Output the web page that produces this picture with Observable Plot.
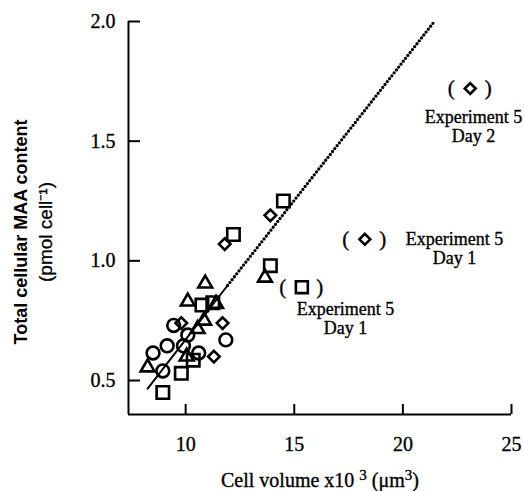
<!DOCTYPE html>
<html><head><meta charset="utf-8">
<script src="https://cdn.jsdelivr.net/npm/d3@7"></script>
<script src="https://cdn.jsdelivr.net/npm/@observablehq/plot@0.6"></script>
<style>body{margin:0;background:#fff}</style>
</head><body><div id="chart"></div>
<script>
// ---- data ----
const squareX = [14.5, 12.2, 13.9, 10.75, 11.25, 10.35, 9.8, 8.95];
const squareY = [1.25, 1.11, 0.98, 0.815, 0.825, 0.585, 0.53, 0.45];
const diamondX = [13.9, 11.8, 9.8, 11.7, 11.3];
const diamondY = [1.19, 1.07, 0.74, 0.74, 0.60];
const triangleX = [10.9, 10.1, 11.4, 10.85, 10.55, 10.05, 8.25, 13.65];
const triangleY = [0.905, 0.83, 0.82, 0.75, 0.715, 0.60, 0.555, 0.93];
const circleX = [9.45, 10.1, 9.15, 8.5, 9.9, 10.6, 11.85, 8.95];
const circleY = [0.73, 0.69, 0.645, 0.615, 0.645, 0.615, 0.67, 0.54];
// excluded (bracketed) points, Experiment 5
const outSquareX = [15.35];
const outSquareY = [0.89];
const outDiamondX = [18.25, 23.1];
const outDiamondY = [1.09, 1.72];
// regression line: solid part and dotted extrapolation
const solidX = [8.25, 11.93];
const solidY = [0.466, 0.897];
const dottedX = [11.93, 21.45];
const dottedY = [0.897, 2.0];
// annotation labels (centre positions in data units)
const noteText = ["Experiment 5\nDay 2", "Experiment 5\nDay 1", "Experiment 5\nDay 1"];
const noteX = [23.25, 22.38, 17.36];
const noteY = [1.563, 1.051, 0.76];
// axes
const xDomain = [7.37, 25];
const yDomain = [0.358, 2.0];
const xTicks = [10, 15, 20, 25];
const yTicks = [0.5, 1.0, 1.5, 2.0];
const xLabelParts = ["Cell volume x10 ", "3", " (μm", "3", ")"];
const yLabel = "Total cellular MAA content\n(pmol cell⁻¹)";

const pts = (xs, ys) => xs.map((x, i) => ({x, y: ys[i]}));
const serif = "Liberation Serif";
const hollow = {x: "x", y: "y", fill: "none", stroke: "black", strokeWidth: 2.6};
const ink = {fill: "black", stroke: "black", strokeWidth: 0.35};

const chart = Plot.plot({
  width: 524, height: 491,
  marginLeft: 128, marginRight: 13, marginTop: 21, marginBottom: 77,
  x: {domain: xDomain},
  y: {domain: yDomain},
  marks: [
    Plot.ruleX([xDomain[0]], {strokeWidth: 2}),
    Plot.ruleY([yDomain[0]], {strokeWidth: 2}),
    Plot.axisY(yTicks, {anchor: "left", tickSize: -12, tickPadding: 25, strokeWidth: 2, label: null,
      tickFormat: d3.format(".1f"), fontSize: 20, fontFamily: serif, fill: "black"}),
    Plot.axisX(xTicks, {anchor: "bottom", tickSize: -10, tickPadding: 32, strokeWidth: 2, label: null,
      fontSize: 20, fontFamily: serif, fill: "black"}),
    Plot.line(pts(solidX, solidY), {x: "x", y: "y", stroke: "black", strokeWidth: 2}),
    Plot.line(pts(dottedX, dottedY), {x: "x", y: "y", stroke: "black", strokeWidth: 3.3,
      strokeDasharray: "0,3.7", strokeLinecap: "round"}),
    Plot.dot(pts(circleX, circleY), {...hollow, symbol: "circle", r: 6.4}),
    Plot.dot(pts(triangleX, triangleY), {...hollow, symbol: "triangle2", r: 6.6}),
    Plot.dot(pts(squareX, squareY), {...hollow, symbol: "square2", r: 7.9}),
    Plot.dot(pts(diamondX, diamondY), {...hollow, symbol: "diamond2", r: 5.2}),
    Plot.dot(pts(outSquareX, outSquareY), {...hollow, symbol: "square2", r: 7.6}),
    Plot.dot(pts(outDiamondX, outDiamondY), {...hollow, symbol: "diamond2", r: 4.9}),
    Plot.text(pts([...outSquareX, ...outDiamondX], [...outSquareY, ...outDiamondY]),
      {x: "x", y: "y", text: () => "(", dx: -19, fontSize: 21, fontFamily: serif, ...ink}),
    Plot.text(pts([...outSquareX, ...outDiamondX], [...outSquareY, ...outDiamondY]),
      {x: "x", y: "y", text: () => ")", dx: 18, fontSize: 21, fontFamily: serif, ...ink}),
    Plot.text(noteText.map((t, i) => ({t, x: noteX[i], y: noteY[i]})),
      {x: "x", y: "y", text: "t", fontSize: 18, lineHeight: 1.05, fontFamily: serif, ...ink}),
    Plot.text([xLabelParts.join("")], {frameAnchor: "bottom", text: d => d, dy: 66, fontSize: 20,
      textAnchor: "middle", lineAnchor: "middle", fontFamily: serif, ...ink}),
    Plot.text([yLabel], {frameAnchor: "left", text: d => d, rotate: -90, dx: -97, dy: 14,
      textAnchor: "middle", lineAnchor: "middle", lineHeight: 1.3, fontSize: 18,
      fontFamily: "Liberation Sans", fill: "black"})
  ]
});
const svg = d3.select(chart);
svg.selectAll("g[aria-label$='tick label'] text").attr("stroke", "black").attr("stroke-width", 0.35);
svg.selectAll("text").each(function() {
  const t = this.textContent;
  if (t.includes("MAA")) {
    this.style.fontFamily = "'Liberation Sans', Arial, sans-serif";
    const spans = d3.select(this).selectAll("tspan").nodes();
    if (spans.length) {
      spans[0].setAttribute("font-weight", "bold");
      spans[1].setAttribute("font-size", 19);
      spans[1].setAttribute("stroke", "black");
      spans[1].setAttribute("stroke-width", 0.3);
    }
  } else {
    this.style.fontFamily = "'Liberation Serif', 'Times New Roman', serif";
  }
  if (t.startsWith("Cell volume")) {
    const el = d3.select(this);
    el.text(null);
    xLabelParts.forEach((p, i) => {
      const sup = i === 1 || i === 3;
      const s = el.append("tspan").text(p);
      if (sup) s.attr("font-size", 15).attr("dy", "-0.45em");
      else if (i > 0) s.attr("dy", "0.34em");
    });
  }
});
document.getElementById("chart").appendChild(chart);
</script>
</body></html>
